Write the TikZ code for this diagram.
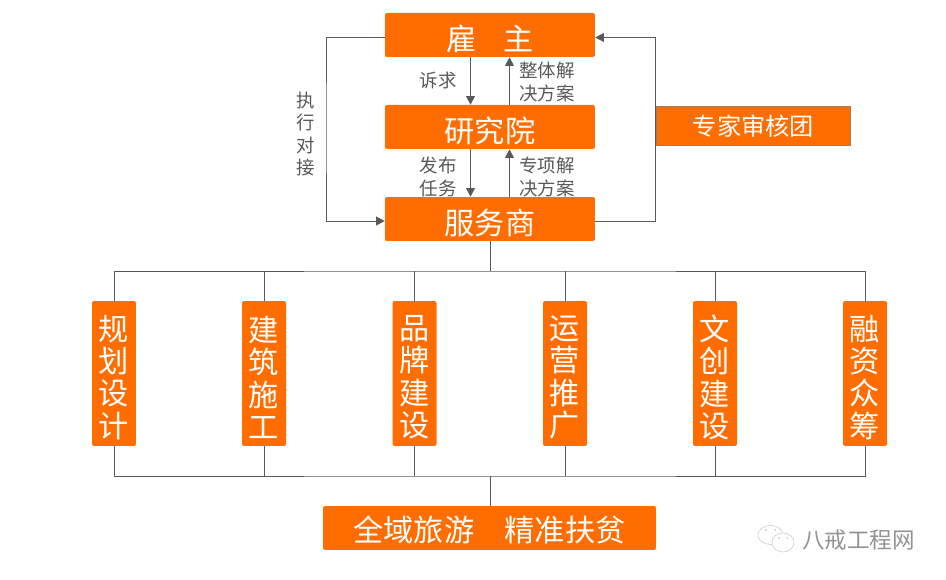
\documentclass[tikz,border=0pt]{standalone}
\usepackage{fontspec}
\setmainfont{Noto Sans CJK SC}
\usetikzlibrary{arrows.meta}
\definecolor{boxorange}{HTML}{FF6D00}
\definecolor{linegray}{HTML}{595959}
\tikzset{
    orangebox/.style={fill=boxorange, rounded corners=1.2pt, inner sep=0pt},
    boxlabel/.style={text=white, inner sep=0pt, font=\fontsize{17.2}{18.4}\selectfont, align=center, yshift=-2.2pt},
    boxtext/.style={label={[boxlabel]center:#1}},
    headbox/.style={orangebox, minimum width=4.2cm, minimum height=0.88cm},
    columnbox/.style={orangebox, minimum width=0.88cm, minimum height=2.9cm},
    link/.style={draw=linegray, line width=0.5pt},
    linkarrow/.style={link, -{Triangle[length=4.8pt, width=5pt]}},
    caption/.style={text=linegray, inner sep=0pt, font=\fontsize{10.5}{12.6}\selectfont, align=center}
}
\begin{document}
\begin{tikzpicture}[x=0.02cm, y=-0.02cm]
    \useasboundingbox (0,0) rectangle (946,580);

    \node[headbox, boxtext={雇\hspace{15.5pt}主}] (owner) at (490,35) {};
    \node[headbox, boxtext={研究院}] (institute) at (490,127) {};
    \node[headbox, boxtext={服务商}] (provider) at (490,219) {};
    \node[orangebox, minimum width=3.88cm, minimum height=0.78cm, draw=gray!70!boxorange, rounded corners=0pt, text=white, font=\fontsize{13.8}{15}\selectfont] (experts) at (753.5,126) {专家审核团};

    \node[columnbox, boxtext={规\\划\\设\\计}] (planning) at (114,373.5) {};
    \node[columnbox, boxtext={建\\筑\\施\\工}] (construct) at (264,373.5) {};
    \node[columnbox, boxtext={品\\牌\\建\\设}] (brand) at (414.5,373.5) {};
    \node[columnbox, boxtext={运\\营\\推\\广}] (operate) at (565,373.5) {};
    \node[columnbox, boxtext={文\\创\\建\\设}] (culture) at (715,373.5) {};
    \node[columnbox, boxtext={融\\资\\众\\筹}] (finance) at (865,373.5) {};

    \node[orangebox, minimum width=6.66cm, minimum height=0.88cm, label={[boxlabel, yshift=1pt]center:全域旅游　精准扶贫}] (goal) at (489.5,528) {};

    \coordinate (railtop) at (490,271);
    \coordinate (railbottom) at (490,476);
    \coordinate (loopleft) at (326,127);
    \coordinate (loopright) at (655,127);
    \coordinate (downa) at (470.5,0);
    \coordinate (upa) at (509.5,0);
    \coordinate (ownerside) at (0,37.5);
    \coordinate (providerside) at (0,221);

    % owner, institute and provider
    \draw[linkarrow] (owner.south -| downa) -- (institute.north -| downa);
    \draw[linkarrow] (institute.north -| upa) -- (owner.south -| upa);
    \draw[linkarrow] (institute.south -| downa) -- (provider.north -| downa);
    \draw[linkarrow] (provider.north -| upa) -- (institute.south -| upa);
    \draw[linkarrow] (owner.west |- ownerside) -| (loopleft) |- (provider.west |- providerside);
    \draw[linkarrow] (provider.east |- providerside) -| (loopright) |- (owner.east |- ownerside);

    \node[caption] (appeal) at (438,81) {诉求};
    \node[caption] (overall) at (547,82) {整体解\\决方案};
    \node[caption] (publish) at (438,177) {发布\\任务};
    \node[caption] (special) at (547,177) {专项解\\决方案};
    \node[caption] (execute) at (306,134) {执\\行\\对\\接};

    % upper rail
    \draw[link] (provider.south) -- (railtop);
    \draw[link] (planning.north) |- (railtop) -| (finance.north);
    \draw[link] (construct.north) -- (construct.north |- railtop);
    \draw[link] (brand.north) -- (brand.north |- railtop);
    \draw[link] (operate.north) -- (operate.north |- railtop);
    \draw[link] (culture.north) -- (culture.north |- railtop);

    % lower rail
    \draw[link] (goal.north -| railbottom) -- (railbottom);
    \draw[link] (planning.south) |- (railbottom) -| (finance.south);
    \draw[link] (construct.south) -- (construct.south |- railbottom);
    \draw[link] (brand.south) -- (brand.south |- railbottom);
    \draw[link] (operate.south) -- (operate.south |- railbottom);
    \draw[link] (culture.south) -- (culture.south |- railbottom);

    % watermark
    \draw[gray!45, line width=0.3pt] (770.5,535) ellipse (12.5 and 9.5);
    \draw[gray!45, line width=0.3pt, fill=white] (783,542.5) ellipse (11 and 9.5);
    \fill[gray!45] (766,530) circle (1) (775,530) circle (1) (779,538) circle (1) (787,538) circle (1);
    \node[text=gray!85, inner sep=0pt, font=\fontsize{12.8}{14}\selectfont] (brandmark) at (858.5,540) {八戒工程网};
\end{tikzpicture}
\end{document}
